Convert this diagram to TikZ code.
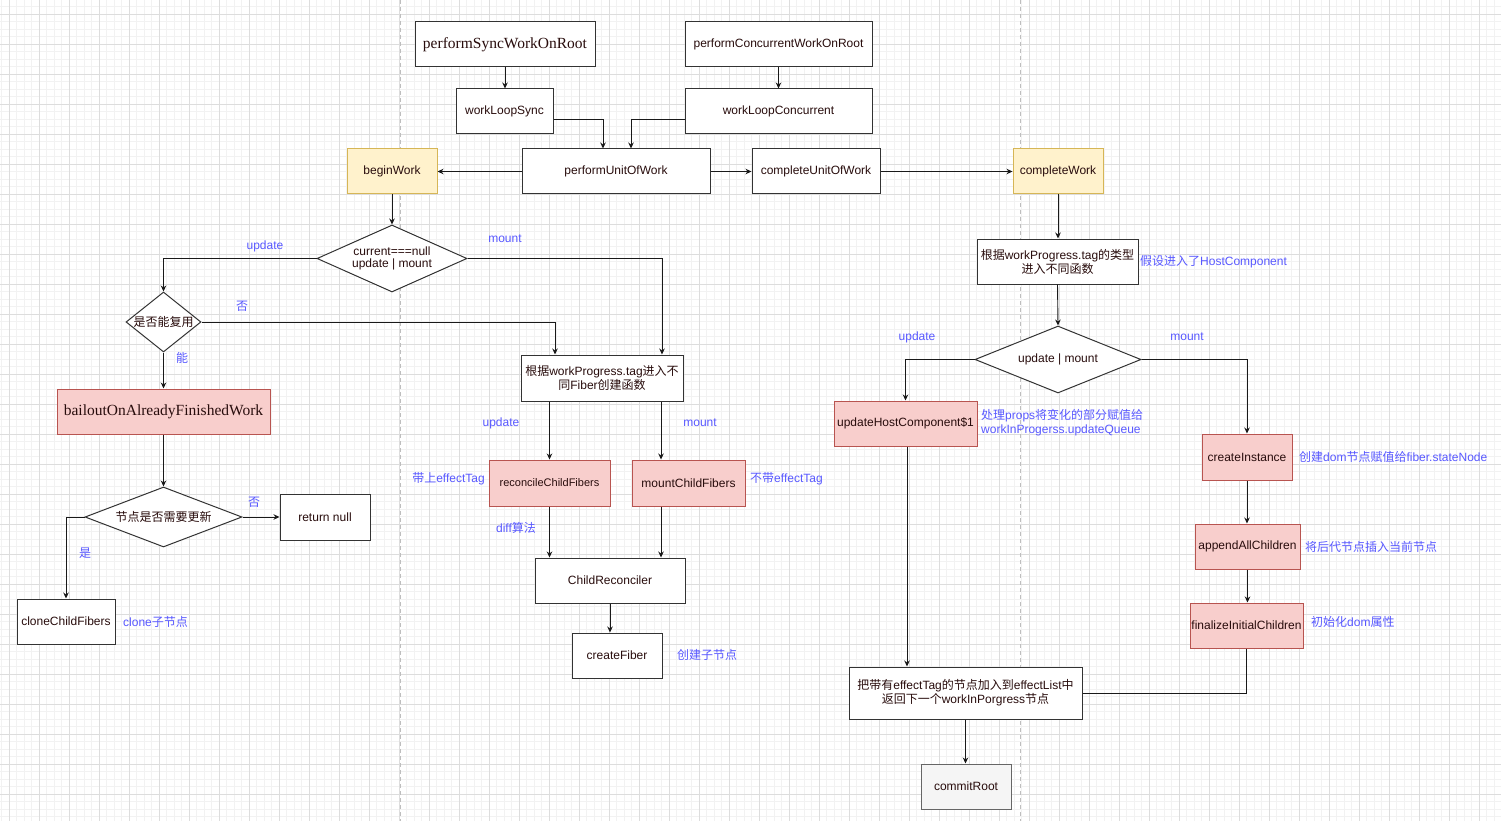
\documentclass[tikz,border=0pt]{standalone}
\usepackage{fontspec}
\setmainfont{Liberation Sans}
\newfontfamily\serifx{Liberation Serif}
\newfontfamily\cjk{Noto Sans CJK SC}
\newcommand\zh[1]{{\cjk #1}}
\usetikzlibrary{arrows.meta,shapes.geometric}
\definecolor{txtdark}{RGB}{40,12,12}
\definecolor{lblblue}{RGB}{88,88,255}
\definecolor{yelfill}{RGB}{255,242,204}
\definecolor{yelline}{RGB}{214,182,86}
\definecolor{redfill}{RGB}{248,206,204}
\definecolor{redline}{RGB}{184,84,80}
\definecolor{grayfill}{RGB}{245,245,245}
\definecolor{grayline}{RGB}{102,102,102}
\definecolor{gridmajor}{RGB}{221,221,221}
\definecolor{gridminor}{RGB}{242,242,242}
\definecolor{sepline}{RGB}{190,190,190}
\tikzset{
  box/.style={draw=black!80, line width=1pt, fill=white, inner sep=0pt, align=center,
    text=txtdark, font=\fontsize{12}{14}\selectfont},
  yelbox/.style={box, fill=yelfill, draw=yelline},
  redbox/.style={box, fill=redfill, draw=redline},
  graybox/.style={box, fill=grayfill, draw=grayline},
  dia/.style={diamond, draw=black!80, line width=1pt, fill=white, inner sep=0pt,
    text=txtdark, font=\fontsize{12}{14}\selectfont},
  lbl/.style={text=lblblue, inner sep=0pt, font=\fontsize{12}{14}\selectfont},
  conn/.style={draw=black!90, line width=0.9pt},
  arr/.style={conn, -{Stealth[length=6pt,width=5.5pt]}},
}
\begin{document}
\begin{tikzpicture}[x=1pt,y=-1pt]
\useasboundingbox (0,0) rectangle (1501,821);
\fill[white] (0,0) rectangle (1501,821);
\begin{scope}
\clip (0,0) rectangle (1501,821);
\foreach \k in {0,...,200} {\draw[gridminor, line width=0.8pt] ({1.5+7.5*\k},0) -- ({1.5+7.5*\k},821);}
\foreach \k in {0,...,110} {\draw[gridminor, line width=0.8pt] (0,{-1+7.5*\k}) -- (1501,{-1+7.5*\k});}
\foreach \k in {0,...,50} {\draw[gridmajor, line width=0.9pt] ({9+30*\k},0) -- ({9+30*\k},821);}
\foreach \k in {0,...,28} {\draw[gridmajor, line width=0.9pt] (0,{14+30*\k}) -- (1501,{14+30*\k});}
\end{scope}
\draw[sepline, line width=0.8pt, dash pattern=on 4pt off 3pt] (400,0) -- (400,821);
\draw[sepline, line width=0.8pt, dash pattern=on 4pt off 3pt] (1020,0) -- (1020,821);

% top row
\node[box, minimum width=180pt, minimum height=45pt, font=\serifx\fontsize{15.5}{18}\selectfont] (psw) at (505,44.5) {performSyncWorkOnRoot};
\node[box, minimum width=187pt, minimum height=45pt] (pcw) at (778.5,44.5) {performConcurrentWorkOnRoot};
\node[box, minimum width=97pt, minimum height=45pt] (wls) at (504.5,111.5) {workLoopSync};
\node[box, minimum width=187pt, minimum height=45pt] (wlc) at (778.5,111.5) {workLoopConcurrent};
\node[yelbox, minimum width=90pt, minimum height=45pt] (bw) at (392,171.5) {beginWork};
\node[box, minimum width=188pt, minimum height=45pt] (pu) at (616,171.5) {performUnitOfWork};
\node[box, minimum width=128pt, minimum height=45pt] (cu) at (816,171.5) {completeUnitOfWork};
\node[yelbox, minimum width=90pt, minimum height=45pt] (cw) at (1058,171.5) {completeWork};

% left branch
\node[dia, minimum width=150pt, minimum height=67pt] (d1) at (392,258.5) {\makebox[0pt]{\begin{tabular}{@{}c@{}}current===null\\[-2pt]update | mount\end{tabular}}};
\node[dia, minimum width=75pt, minimum height=60pt] (d2) at (163.5,322) {\makebox[0pt]{\zh{是否能复用}}};
\node[redbox, minimum width=213pt, minimum height=45pt, font=\serifx\fontsize{15.5}{18}\selectfont] (bail) at (163.5,411.5) {bailoutOnAlreadyFinishedWork};
\node[dia, minimum width=157pt, minimum height=60pt] (d3) at (163.5,517) {\makebox[0pt]{\zh{节点是否需要更新}}};
\node[box, minimum width=90pt, minimum height=46pt] (ret) at (325,517) {return null};
\node[box, minimum width=98pt, minimum height=45pt] (clone) at (66,621.5) {cloneChildFibers};

% middle
\node[box, minimum width=162pt, minimum height=46pt] (mid) at (602,378) {\zh{根据}workProgress.tag\zh{进入不}\\\zh{同}Fiber\zh{创建函数}};
\node[redbox, minimum width=121pt, minimum height=46pt, font=\fontsize{11}{13}\selectfont] (rcf) at (549.5,483) {reconcileChildFibers};
\node[redbox, minimum width=113pt, minimum height=46pt] (mcf) at (688.5,483) {mountChildFibers};
\node[box, minimum width=150pt, minimum height=45pt] (cr) at (610,580.5) {ChildReconciler};
\node[box, minimum width=90pt, minimum height=45pt] (cf) at (617,655.5) {createFiber};

% right
\node[box, minimum width=161pt, minimum height=45pt] (tag2) at (1057.5,261.5) {\zh{根据}workProgress.tag\zh{的类型}\\\zh{进入不同函数}};
\node[dia, minimum width=166pt, minimum height=67pt] (d4) at (1058,359.5) {\makebox[0pt]{update | mount}};
\node[redbox, minimum width=143pt, minimum height=45pt] (uhc) at (905.5,423.5) {updateHostComponent\$1};
\node[redbox, minimum width=90pt, minimum height=46pt] (ci) at (1247,457) {createInstance};
\node[redbox, minimum width=105pt, minimum height=45pt] (ac) at (1247.5,546.5) {appendAllChildren};
\node[redbox, minimum width=113pt, minimum height=45pt] (fic) at (1246.5,625.5) {finalizeInitialChildren};
\node[box, minimum width=233pt, minimum height=52pt] (el) at (965.5,693) {\zh{把带有}effectTag\zh{的节点加入到}effectList\zh{中}\\\zh{返回下一个}workInPorgress\zh{节点}};
\node[graybox, minimum width=90pt, minimum height=45pt] (cmt) at (966,786.5) {commitRoot};

% labels
\node[lbl] (l1) at (265,246) {update};
\node[lbl] (l2) at (505,239) {mount};
\node[lbl] (l3) at (242,306) {\zh{否}};
\node[lbl] (l4) at (182,358) {\zh{能}};
\node[lbl] (l5) at (254,502) {\zh{否}};
\node[lbl] (l6) at (85,553) {\zh{是}};
\node[lbl, anchor=west] (l7) at (123,621.5) {clone\zh{子节点}};
\node[lbl] (l8) at (501,423) {update};
\node[lbl] (l9) at (700,423) {mount};
\node[lbl, anchor=east] (l10) at (485,478.5) {\zh{带上}effectTag};
\node[lbl, anchor=west] (l11) at (750,478.5) {\zh{不带}effectTag};
\node[lbl] (l12) at (516,527.5) {diff\zh{算法}};
\node[lbl, anchor=west] (l13) at (677,655) {\zh{创建子节点}};
\node[lbl, anchor=west] (l14) at (1140,262) {\zh{假设进入了}HostComponent};
\node[lbl] (l15) at (917,337) {update};
\node[lbl] (l16) at (1187,337) {mount};
\node[lbl, anchor=west, align=left] (l17) at (981,422.5) {\zh{处理}props\zh{将变化的部分赋值给}\\workInProgerss.updateQueue};
\node[lbl, anchor=west] (l18) at (1299,457) {\zh{创建}dom\zh{节点赋值给}fiber.stateNode};
\node[lbl, anchor=west] (l19) at (1305,547) {\zh{将后代节点插入当前节点}};
\node[lbl, anchor=west] (l20) at (1311,622) {\zh{初始化}dom\zh{属性}};

% connectors
\draw[arr] (psw.south) -- (wls.north -| psw.south);
\draw[arr] (pcw.south) -- (wlc.north);
\draw[arr] ([yshift=-7.5pt]wls.east) -| ([xshift=-13pt]pu.north);
\draw[arr] ([yshift=-7.5pt]wlc.west) -| ([xshift=15pt]pu.north);
\draw[arr] (pu.west) -- (bw.east);
\draw[arr] (pu.east) -- (cu.west);
\draw[arr] (cu.east) -- (cw.west);
\draw[arr] (bw.south) -- (d1.north);
\draw[arr] (d1.west) -| (d2.north);
\draw[arr] (d1.east) -| ([xshift=60pt]mid.north);
\draw[arr] (d2.east) -| ([xshift=-47pt]mid.north);
\draw[arr] (d2.south) -- (bail.north);
\draw[arr] (bail.south) -- (d3.north);
\draw[arr] (d3.west) -| (clone.north);
\draw[arr] (d3.east) -- (ret.west);
\draw[arr] (rcf.north |- mid.south) -- (rcf.north);
\draw[arr] ([xshift=59pt]mid.south) -- ([xshift=59pt]mid.south |- mcf.north);
\draw[arr] (rcf.south) -- (rcf.south |- cr.north);
\draw[arr] ([xshift=-27.5pt]mcf.south) -- ([xshift=-27.5pt]mcf.south |- cr.north);
\draw[arr] (cr.south) -- (cr.south |- cf.north);
\draw[arr] (cw.south) -- (cw.south |- tag2.north);
\draw[arr] (tag2.south) -- (d4.north);
\draw[arr] (d4.west) -| (uhc.north);
\draw[arr] (d4.east) -| (ci.north);
\draw[arr] ([xshift=1.5pt]uhc.south) -- ([xshift=1.5pt]uhc.south |- el.north);
\draw[arr] (ci.south) -- (ci.south |- ac.north);
\draw[arr] (ac.south) -- (ac.south |- fic.north);
\draw[conn] (fic.south) |- (el.east);
\draw[arr] (el.south) -- (el.south |- cmt.north);
\end{tikzpicture}
\end{document}
